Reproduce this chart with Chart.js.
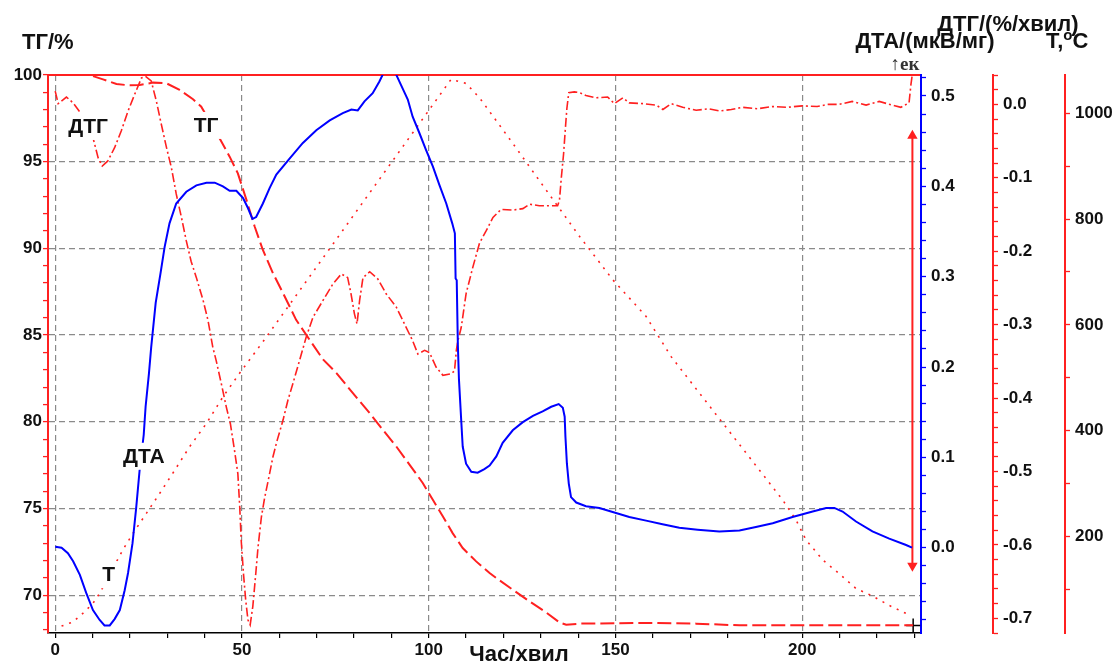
<!DOCTYPE html>
<html lang="uk">
<head>
<meta charset="UTF-8">
<title>ТГ / ДТГ / ДТА / Т</title>
<script src="https://cdn.jsdelivr.net/npm/chart.js"></script>
<style>
  html, body { margin: 0; padding: 0; background: #fff; }
  #caixa { width: 1120px; height: 666px; }
  canvas { display: block; }
</style>
</head>
<body>
<div id="caixa"><canvas id="grafico" width="1120" height="666"></canvas></div>

<script>
// ---- dados (час, хв) ----

// ТГ, %
const tTG = [0, 9.2, 12.8, 16.4, 19.5, 22.6, 26.2, 29.8, 33.3, 36.9,
  39.1, 44.0, 46.7, 48.9, 51.2, 53.4, 55.6, 58.3, 61.0, 64.5,
  68.1, 71.7, 75.3, 79.7, 84.2, 87.7, 91.3, 94.9, 98.4, 101.1,
  103.8, 106.4, 109.1, 112.7, 116.3, 118.1, 122.5, 127.0, 131.4, 135.0,
  136.8, 140.4, 158.2, 171.6, 183.2, 229.7];
const vTG = [100, 100, 99.75, 99.48, 99.41, 99.42, 99.56, 99.52, 99.14, 98.6,
  98.17, 96.35, 95.29, 94.33, 92.8, 91.26, 89.91, 88.57, 87.42, 85.88,
  84.73, 83.6, 82.81, 81.65, 80.5, 79.54, 78.58, 77.52, 76.47, 75.5,
  74.54, 73.58, 72.72, 71.95, 71.28, 70.99, 70.32, 69.64, 69.01, 68.43,
  68.3, 68.36, 68.4, 68.36, 68.26, 68.26];

// ДТГ, %/хв
const tDTG = [0, 0.8, 3.0, 4.8, 7.4, 10.1, 11.5, 12.6, 14.1, 15.9,
  17.7, 19.5, 21.3, 23.1, 24.2, 25.7, 27.1, 28.4, 29.8, 31.1,
  32.4, 33.8, 35.1, 36.4, 37.8, 39.6, 40.9, 42.2, 43.1, 44.5,
  45.8, 46.9, 48.0, 48.9, 49.4, 49.8, 50.4, 51.0, 51.6, 52.2,
  52.9, 53.7, 54.3, 55.2, 56.1, 57.2, 58.3, 59.4, 61.0, 62.3,
  63.6, 65.4, 67.2, 69.0, 71.7, 74.3, 76.6, 78.3, 79.2, 80.1,
  80.8, 81.5, 82.4, 84.2, 86.4, 88.6, 91.3, 93.5, 95.7, 97.1,
  98.9, 100.2, 102.0, 103.8, 106.0, 106.9, 107.4, 107.8, 108.7, 110.0,
  111.8, 113.6, 115.4, 117.2, 119.4, 122.5, 125.2, 127.0, 129.6, 132.3,
  134.5, 135.0, 135.5, 136.1, 136.6, 137.0, 137.5, 139.0, 140.4, 142.1,
  144.8, 147.9, 149.7, 152.0, 153.7, 157.3, 160.9, 162.7, 164.9, 168.0,
  171.6, 175, 178, 181, 184, 188, 192, 196, 200, 204,
  207, 209.9, 213.4, 217.1, 220.6, 224.1, 226.4, 228.6, 229.1, 229.4];
const vDTG = [0.018, 0.001, 0.010, 0.002, -0.016, -0.045, -0.073, -0.084, -0.077, -0.059,
  -0.036, -0.009, 0.014, 0.036, 0.038, 0.032, 0.004, -0.027, -0.059, -0.086,
  -0.122, -0.154, -0.186, -0.214, -0.236, -0.267, -0.294, -0.331, -0.349, -0.381,
  -0.412, -0.435, -0.471, -0.503, -0.548, -0.594, -0.639, -0.675, -0.702, -0.709,
  -0.684, -0.639, -0.603, -0.562, -0.535, -0.508, -0.480, -0.458, -0.430, -0.403,
  -0.381, -0.349, -0.317, -0.290, -0.267, -0.245, -0.231, -0.236, -0.258, -0.285,
  -0.299, -0.267, -0.236, -0.228, -0.238, -0.258, -0.276, -0.299, -0.322, -0.340,
  -0.335, -0.338, -0.358, -0.369, -0.367, -0.363, -0.335, -0.322, -0.304, -0.258,
  -0.222, -0.189, -0.172, -0.154, -0.143, -0.144, -0.142, -0.136, -0.138, -0.138,
  -0.138, -0.131, -0.100, -0.068, -0.032, -0.005, 0.016, 0.017, 0.016, 0.012,
  0.009, 0.010, 0.001, 0.009, 0.002, 0.001, -0.001, -0.007, 0.001, -0.004,
  -0.008, -0.006, -0.009, -0.007, -0.004, -0.006, -0.003, -0.004, -0.002, -0.003,
  0.000, 0.000, 0.004, -0.001, 0.004, -0.001, -0.004, 0.002, 0.027, 0.038];

// ДТА, мкВ/мг
const tDTA = [0, 1.7, 3.4, 4.8, 6.6, 8.3, 10.1, 11.9, 13.2, 14.6,
  15.9, 17.3, 18.6, 19.5, 20.7, 21.7, 22.6, 23.7, 24.2, 25.1,
  25.7, 26.9, 28.2, 29.3, 30.6, 32.4, 35.1, 37.8, 40.5, 42.7,
  44.9, 46.7, 48.5, 50.3, 51.6, 52.8, 53.8, 55.6, 57.4, 59.2,
  62.8, 66.3, 69.9, 73.5, 77.0, 79.3, 81.0, 82.8, 85.0, 86.8,
  88.2, 90.8, 92.6, 94.4, 95.7, 97.5, 99.3, 101.1, 102.9, 104.7,
  106.3, 107.0, 107.2, 107.5, 107.8, 108.1, 108.7, 109.1, 110.0, 111.4,
  113.1, 114.9, 116.3, 118.1, 119.8, 122.5, 125.2, 127.9, 130.5, 132.8,
  134.8, 135.9, 136.4, 136.6, 137.0, 137.5, 138.1, 139.5, 142.1, 145.7,
  149.7, 153.7, 158.2, 162.6, 167.1, 172.0, 177.8, 183.2, 187.6, 192.1,
  197.4, 202.8, 206.4, 208.6, 210.8, 214.4, 218.8, 223.3, 227.8, 229.4];
const vDTA = [0.001, 0.000, -0.006, -0.015, -0.030, -0.050, -0.069, -0.080, -0.086, -0.086,
  -0.079, -0.069, -0.047, -0.028, 0.005, 0.045, 0.086, 0.125, 0.156, 0.193,
  0.222, 0.271, 0.304, 0.333, 0.359, 0.381, 0.394, 0.401, 0.404, 0.404,
  0.400, 0.395, 0.395, 0.387, 0.376, 0.364, 0.366, 0.381, 0.398, 0.413,
  0.431, 0.448, 0.462, 0.473, 0.481, 0.485, 0.484, 0.494, 0.503, 0.516,
  0.528, 0.528, 0.512, 0.496, 0.477, 0.459, 0.440, 0.422, 0.401, 0.381,
  0.359, 0.348, 0.298, 0.296, 0.225, 0.186, 0.141, 0.112, 0.093, 0.084,
  0.083, 0.087, 0.091, 0.101, 0.116, 0.130, 0.139, 0.146, 0.151, 0.156,
  0.159, 0.155, 0.145, 0.123, 0.093, 0.071, 0.056, 0.050, 0.046, 0.044,
  0.039, 0.034, 0.030, 0.026, 0.022, 0.020, 0.018, 0.019, 0.023, 0.027,
  0.034, 0.040, 0.044, 0.044, 0.040, 0.029, 0.018, 0.010, 0.003, 0.000];

// Т, °С
const tT = [1.7, 4.8, 7.4, 10.1, 11.9, 18.1, 20.8, 24.4, 28.0, 31.5,
  36.0, 40.5, 44.9, 49.4, 55.6, 106.0, 110.0, 113.6, 122.5, 131.4,
  140.4, 149.3, 158.2, 164.9, 172.5, 194.8, 198.3, 201.0, 205.5, 209.9,
  214.4, 218.8, 223.3, 227.8];
const vT = [31, 39, 55, 74, 93, 175, 206, 244, 282, 320,
  370, 414, 464, 509, 568, 1064, 1056, 1029, 943, 855,
  767, 685, 616, 540, 471, 269, 232, 194, 156, 130,
  102, 88, 70, 55];

// marcadores no fim do registo
const tSeta = [229.5, 229.5];
const vSeta = [0.456, -0.020];   // ДТА
const tCruz = [229.7];
const vCruz = [68.25];           // ТГ

// rótulos das curvas (em unidades de tempo / ТГ)
const rotulosCurvas = [
  { texto: 'ДТГ', t: 8.8, tg: 97.06 },
  { texto: 'ТГ', t: 40.4, tg: 97.12 },
  { texto: 'ДТА', t: 23.7, tg: 78.04 },
  { texto: 'Т', t: 14.3, tg: 71.21 }
];

const pares = (xs, ys) => xs.map((x, i) => ({ x: x, y: ys[i] }));

const vermelho = '#ff2020';
const azul = '#0000ff';
const cinza = '#8a8a8a';
const transparente = 'rgba(0,0,0,0)';
const fonte = '"Liberation Sans", Arial, Helvetica, sans-serif';

Chart.defaults.font.family = fonte;
Chart.defaults.font.size = 17;
Chart.defaults.font.weight = 'bold';
Chart.defaults.color = '#111';

function multiplo(v, passo) {
  const r = v / passo;
  return Math.abs(r - Math.round(r)) < 1e-6;
}

const textos = {
  id: 'textos',
  afterDatasetsDraw(chart) {
    const ctx = chart.ctx;
    const sx = chart.scales.x, sy = chart.scales.yTG;
    ctx.save();
    ctx.font = 'bold 21px ' + fonte;
    ctx.textAlign = 'center';
    ctx.textBaseline = 'middle';
    rotulosCurvas.forEach(r => {
      const px = sx.getPixelForValue(r.t);
      const py = sy.getPixelForValue(r.tg);
      const w = ctx.measureText(r.texto).width;
      ctx.fillStyle = '#fff';
      ctx.fillRect(px - w / 2 - 3, py - 13, w + 6, 27);
      ctx.fillStyle = '#111';
      ctx.fillText(r.texto, px, py + 1);
    });
    ctx.restore();
  },
  afterDraw(chart) {
    const ctx = chart.ctx;
    ctx.save();
    ctx.fillStyle = '#111';
    ctx.textBaseline = 'alphabetic';
    ctx.font = 'bold 22px ' + fonte;

    ctx.textAlign = 'left';
    ctx.fillText('ТГ/%', 22, 49);

    ctx.textAlign = 'center';
    ctx.fillText('ДТА/(мкВ/мг)', 925, 48);
    ctx.fillText('ДТГ/(%/хвил)', 1008, 31);
    ctx.fillText('Час/хвил', 519, 661);

    // Т,°С з піднятим «о»
    ctx.textAlign = 'left';
    let x0 = 1046;
    ctx.fillText('Т,', x0, 48);
    x0 += ctx.measureText('Т,').width;
    ctx.font = 'bold 15px ' + fonte;
    ctx.fillText('o', x0, 40);
    x0 += ctx.measureText('o').width;
    ctx.font = 'bold 22px ' + fonte;
    ctx.fillText('С', x0, 48);

    ctx.textAlign = 'center';
    ctx.font = 'bold 19px "Liberation Serif", "DejaVu Serif", serif';
    ctx.fillStyle = '#333';
    ctx.fillText('↑ек', 905, 70);
    ctx.restore();
  }
};

const eixoY = (cor, extra) => Object.assign({
  type: 'linear',
  ticks: { autoSkip: false, includeBounds: false, padding: 5 },
  grid: { drawOnChartArea: false, tickLength: 5, tickColor: cor, tickWidth: 1.3, tickBorderDash: [] },
  border: { color: cor, width: 2 }
}, extra);

new Chart(document.getElementById('grafico'), {
  type: 'line',
  data: {
    datasets: [
      {
        label: 'ДТА', yAxisID: 'yDTA', data: pares(tDTA, vDTA),
        borderColor: azul, borderWidth: 2, pointRadius: 0, clip: 0
      },
      {
        label: 'ТГ', yAxisID: 'yTG', data: pares(tTG, vTG),
        borderColor: vermelho, borderWidth: 2, borderDash: [14, 5], pointRadius: 0, clip: 0
      },
      {
        label: 'ДТГ', yAxisID: 'yDTG', data: pares(tDTG, vDTG),
        borderColor: vermelho, borderWidth: 1.6, borderDash: [9, 3, 2, 3], pointRadius: 0, clip: 0
      },
      {
        label: 'Т', yAxisID: 'yT', data: pares(tT, vT),
        borderColor: vermelho, borderWidth: 1.6, borderDash: [2, 6], pointRadius: 0, clip: 0
      },
      {
        label: 'seta', yAxisID: 'yDTA', data: pares(tSeta, vSeta),
        borderColor: vermelho, borderWidth: 2, backgroundColor: vermelho,
        pointStyle: 'triangle', pointRadius: 4, pointRotation: [0, 180],
        pointBackgroundColor: vermelho, pointBorderColor: vermelho, clip: false
      },
      {
        label: 'cruz', yAxisID: 'yTG', data: pares(tCruz, vCruz),
        showLine: false, pointStyle: 'cross', pointRadius: 7,
        pointBorderColor: '#000', pointBorderWidth: 1.5, clip: false
      }
    ]
  },
  options: {
    responsive: false,
    animation: false,
    devicePixelRatio: 1,
    layout: { padding: { top: 75, left: 0, right: 0, bottom: 0 } },
    plugins: { legend: { display: false }, tooltip: { enabled: false } },
    elements: { line: { tension: 0 } },
    scales: {
      x: {
        type: 'linear', position: 'bottom', min: -1.93, max: 231.8,
        ticks: {
          stepSize: 10, autoSkip: false, includeBounds: false, padding: 2, maxRotation: 0,
          callback: v => multiplo(v, 50) ? String(Math.round(v)) : ''
        },
        grid: {
          color: c => (c.tick && multiplo(c.tick.value, 50)) ? cinza : transparente,
          lineWidth: 1.2, tickLength: 5, tickColor: '#000', tickWidth: 1.2, tickBorderDash: []
        },
        border: { color: '#000', width: 1.5, dash: [6, 4] },
        afterFit: s => { s.height = 33; }
      },
      xTopo: {
        type: 'linear', position: 'top', min: -1.93, max: 231.8,
        ticks: { display: false },
        grid: { display: false, drawTicks: false },
        border: { color: vermelho, width: 2 },
        afterFit: s => { s.height = 0; }
      },
      yTG: {
        type: 'linear', position: 'left', min: 67.82, max: 100,
        ticks: {
          stepSize: 1, autoSkip: false, includeBounds: false, padding: 1,
          callback: v => multiplo(v, 5) ? String(Math.round(v)) : ''
        },
        grid: {
          color: c => (c.tick && multiplo(c.tick.value, 5) && c.tick.value < 99.5) ? cinza : transparente,
          lineWidth: 1.2, tickLength: 5, tickColor: vermelho, tickWidth: 1.3, tickBorderDash: []
        },
        border: { color: vermelho, width: 2, dash: [6, 4] },
        afterFit: s => { s.width = 48; }
      },
      yDTA: eixoY(azul, {
        position: 'right', weight: 0, min: -0.0944, max: 0.5232,
        ticks: {
          stepSize: 0.02, autoSkip: false, includeBounds: false, padding: 5,
          callback: v => multiplo(v, 0.1) ? v.toFixed(1) : ''
        },
        afterFit: s => { s.width = 72; }
      }),
      yDTG: eixoY(vermelho, {
        position: 'right', weight: 1, min: -0.72, max: 0.04,
        ticks: {
          stepSize: 0.02, autoSkip: false, includeBounds: false, padding: 5,
          callback: v => multiplo(v, 0.1) ? (Math.abs(v) < 1e-9 ? '0.0' : v.toFixed(1)) : ''
        },
        afterFit: s => { s.width = 72; }
      }),
      yT: eixoY(vermelho, {
        position: 'right', weight: 2, min: 18, max: 1072,
        ticks: {
          stepSize: 100, autoSkip: false, includeBounds: false, padding: 5,
          callback: v => multiplo(v, 200) ? String(Math.round(v)) : ''
        },
        afterFit: s => { s.width = 55; }
      })
    }
  },
  plugins: [textos]
});
</script>
</body>
</html>
